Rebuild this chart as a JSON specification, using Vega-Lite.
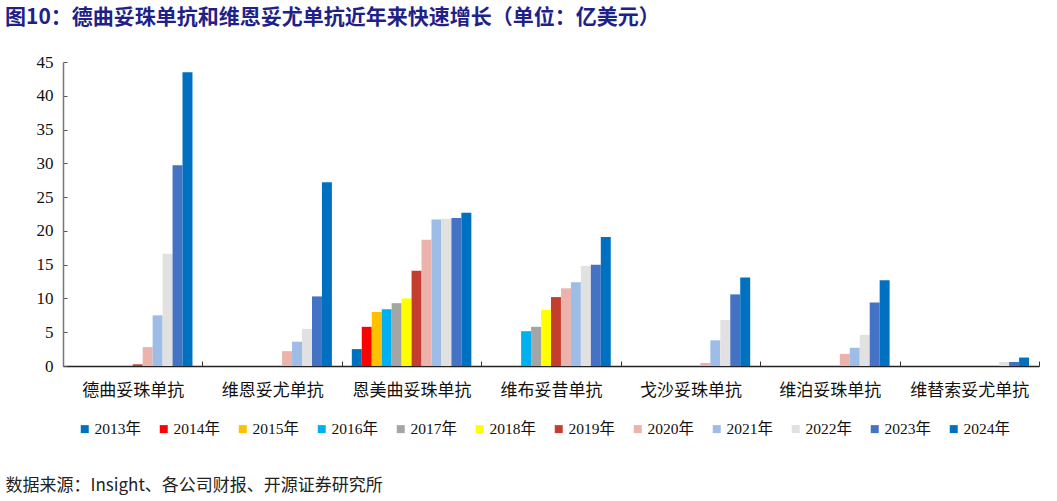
{
  "$schema": "https://vega.github.io/schema/vega-lite/v6.json",
  "autosize": {"type": "fit", "contains": "padding"},
  "width": 1057,
  "height": 501,
  "padding": {"left": 5, "top": 7, "right": 17, "bottom": 8},
  "background": "white",
  "title": {
    "text": "图10：德曲妥珠单抗和维恩妥尤单抗近年来快速增长（单位：亿美元）",
    "anchor": "start",
    "frame": "bounds",
    "font": "Noto Sans CJK SC",
    "fontSize": 21,
    "fontWeight": "bold",
    "color": "#1E2288",
    "offset": 25
  },
  "data": {
    "values": [
      {"drug": "德曲妥珠单抗", "year": "2019年", "sales": 0.25},
      {"drug": "德曲妥珠单抗", "year": "2020年", "sales": 2.8},
      {"drug": "德曲妥珠单抗", "year": "2021年", "sales": 7.5},
      {"drug": "德曲妥珠单抗", "year": "2022年", "sales": 16.6},
      {"drug": "德曲妥珠单抗", "year": "2023年", "sales": 29.7},
      {"drug": "德曲妥珠单抗", "year": "2024年", "sales": 43.5},
      {"drug": "维恩妥尤单抗", "year": "2020年", "sales": 2.2},
      {"drug": "维恩妥尤单抗", "year": "2021年", "sales": 3.6},
      {"drug": "维恩妥尤单抗", "year": "2022年", "sales": 5.5},
      {"drug": "维恩妥尤单抗", "year": "2023年", "sales": 10.3},
      {"drug": "维恩妥尤单抗", "year": "2024年", "sales": 27.2},
      {"drug": "恩美曲妥珠单抗", "year": "2013年", "sales": 2.5},
      {"drug": "恩美曲妥珠单抗", "year": "2014年", "sales": 5.8},
      {"drug": "恩美曲妥珠单抗", "year": "2015年", "sales": 8.0},
      {"drug": "恩美曲妥珠单抗", "year": "2016年", "sales": 8.4},
      {"drug": "恩美曲妥珠单抗", "year": "2017年", "sales": 9.3},
      {"drug": "恩美曲妥珠单抗", "year": "2018年", "sales": 10.0},
      {"drug": "恩美曲妥珠单抗", "year": "2019年", "sales": 14.1},
      {"drug": "恩美曲妥珠单抗", "year": "2020年", "sales": 18.7},
      {"drug": "恩美曲妥珠单抗", "year": "2021年", "sales": 21.7},
      {"drug": "恩美曲妥珠单抗", "year": "2022年", "sales": 21.8},
      {"drug": "恩美曲妥珠单抗", "year": "2023年", "sales": 21.9},
      {"drug": "恩美曲妥珠单抗", "year": "2024年", "sales": 22.7},
      {"drug": "维布妥昔单抗", "year": "2016年", "sales": 5.15},
      {"drug": "维布妥昔单抗", "year": "2017年", "sales": 5.8},
      {"drug": "维布妥昔单抗", "year": "2018年", "sales": 8.3},
      {"drug": "维布妥昔单抗", "year": "2019年", "sales": 10.2},
      {"drug": "维布妥昔单抗", "year": "2020年", "sales": 11.5},
      {"drug": "维布妥昔单抗", "year": "2021年", "sales": 12.4},
      {"drug": "维布妥昔单抗", "year": "2022年", "sales": 14.8},
      {"drug": "维布妥昔单抗", "year": "2023年", "sales": 15.0},
      {"drug": "维布妥昔单抗", "year": "2024年", "sales": 19.1},
      {"drug": "戈沙妥珠单抗", "year": "2020年", "sales": 0.45},
      {"drug": "戈沙妥珠单抗", "year": "2021年", "sales": 3.8},
      {"drug": "戈沙妥珠单抗", "year": "2022年", "sales": 6.8},
      {"drug": "戈沙妥珠单抗", "year": "2023年", "sales": 10.6},
      {"drug": "戈沙妥珠单抗", "year": "2024年", "sales": 13.1},
      {"drug": "维泊妥珠单抗", "year": "2020年", "sales": 1.8},
      {"drug": "维泊妥珠单抗", "year": "2021年", "sales": 2.7},
      {"drug": "维泊妥珠单抗", "year": "2022年", "sales": 4.6},
      {"drug": "维泊妥珠单抗", "year": "2023年", "sales": 9.4},
      {"drug": "维泊妥珠单抗", "year": "2024年", "sales": 12.7},
      {"drug": "维替索妥尤单抗", "year": "2022年", "sales": 0.6},
      {"drug": "维替索妥尤单抗", "year": "2023年", "sales": 0.6},
      {"drug": "维替索妥尤单抗", "year": "2024年", "sales": 1.25}
    ]
  },
  "mark": {"type": "bar"},
  "encoding": {
    "x": {
      "field": "drug",
      "type": "nominal",
      "sort": ["德曲妥珠单抗", "维恩妥尤单抗", "恩美曲妥珠单抗", "维布妥昔单抗", "戈沙妥珠单抗", "维泊妥珠单抗", "维替索妥尤单抗"],
      "scale": {"paddingInner": 0, "paddingOuter": 0},
      "axis": {
        "title": "数据来源：Insight、各公司财报、开源证券研究所",
        "titleAnchor": "start",
        "titleAlign": "left",
        "titleX": -58,
        "titleY": 111,
        "titleFont": "Noto Sans CJK SC",
        "titleFontSize": 17,
        "titleFontWeight": "normal",
        "titleColor": "#222",
        "labelAngle": 0,
        "labelFont": "Noto Sans CJK SC",
        "labelFontSize": 17,
        "labelColor": "#111",
        "labelPadding": 21,
        "tickBand": "extent",
        "tickSize": -5,
        "tickColor": "#333",
        "domainColor": "#222",
        "domainWidth": 1.5
      }
    },
    "xOffset": {
      "field": "year",
      "type": "nominal",
      "scale": {
        "domain": ["2013年", "2014年", "2015年", "2016年", "2017年", "2018年", "2019年", "2020年", "2021年", "2022年", "2023年", "2024年"],
        "paddingInner": 0,
        "paddingOuter": 1
      }
    },
    "y": {
      "field": "sales",
      "type": "quantitative",
      "scale": {"domain": [0, 45]},
      "axis": {
        "title": null,
        "values": [0, 5, 10, 15, 20, 25, 30, 35, 40, 45],
        "grid": false,
        "minExtent": 58,
        "labelFont": "Liberation Serif, Noto Sans CJK SC",
        "labelFontSize": 17,
        "labelColor": "#111",
        "labelPadding": 14,
        "tickSize": -4,
        "tickColor": "#555",
        "domainColor": "#777",
        "domainWidth": 1.5
      }
    },
    "color": {
      "field": "year",
      "type": "nominal",
      "scale": {
        "domain": ["2013年", "2014年", "2015年", "2016年", "2017年", "2018年", "2019年", "2020年", "2021年", "2022年", "2023年", "2024年"],
        "range": ["#0070C0", "#FF0000", "#FFC000", "#00B0F0", "#A5A5A5", "#FFFF00", "#C43E2F", "#EBB3AB", "#9EBDE6", "#E1E1E1", "#4472C4", "#0070C0"]
      },
      "legend": {
        "title": null,
        "orient": "none",
        "direction": "horizontal",
        "columns": 12,
        "legendX": 14,
        "legendY": 359,
        "symbolType": "square",
        "symbolSize": 64,
        "symbolStrokeWidth": 0,
        "labelFont": "Liberation Serif, Noto Sans CJK SC",
        "labelFontSize": 15.5,
        "labelColor": "#111",
        "labelOffset": 2,
        "columnPadding": 14
      }
    }
  },
  "config": {
    "view": {"stroke": null}
  }
}
